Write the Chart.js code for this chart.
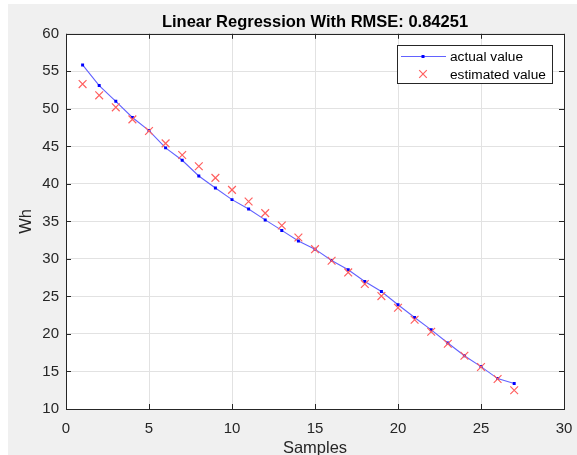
<!DOCTYPE html>
<html>
<head>
<meta charset="utf-8">
<script src="https://cdn.jsdelivr.net/npm/chart.js@4"></script>
<style>
    html, body { margin: 0; padding: 0; background: #fff; }
    #chart { display: block; }
</style>
</head>
<body>
<canvas id="chart" width="577" height="455"></canvas>
<script>
// --- Data ---

const samples = [1, 2, 3, 4, 5, 6, 7, 8, 9, 10, 11, 12, 13, 14, 15, 16, 17, 18, 19, 20, 21, 22, 23, 24, 25, 26, 27];
const actualValues = [55.85, 53.1, 51.0, 48.85, 47.1, 44.8, 43.15, 41.05, 39.45, 37.9, 36.65, 35.2, 33.8, 32.4,
    31.3, 29.8, 28.55, 27.0, 25.65, 23.9, 22.2, 20.55, 18.8, 17.1, 15.65, 14.05, 13.4];
const estimatedValues = [53.3, 51.8, 50.2, 48.6, 47.05, 45.4, 43.85, 42.35, 40.8, 39.2, 37.65, 36.1, 34.45, 32.85,
    31.3, 29.75, 28.2, 26.65, 25.05, 23.5, 21.9, 20.3, 18.7, 17.1, 15.6, 14.0, 12.5];
const xTicks = [0, 5, 10, 15, 20, 25, 30];
const yTicks = [10, 15, 20, 25, 30, 35, 40, 45, 50, 55, 60];

const AXIS_COLOR = '#262626';
const GRID_COLOR = '#e2e2e2';
const FONT = '"Liberation Sans", Arial, sans-serif';

// --- MATLAB-ish frame: grey figure, white axes, box with inward ticks, legend ---

const matlabFrame = {
    id: 'matlabFrame',
    beforeDraw(chart) {
        const { ctx, width, height, chartArea: a } = chart;
        ctx.save();
        ctx.fillStyle = '#ffffff';
        ctx.fillRect(0, 0, width, height);
        ctx.fillStyle = '#f0f0f0';
        ctx.fillRect(8, 4, width - 8, height - 4);
        ctx.fillStyle = '#ffffff';
        ctx.fillRect(a.left, a.top, a.right - a.left, a.bottom - a.top);
        ctx.restore();
    },
    afterDraw(chart) {
        const { ctx, chartArea: a, scales } = chart;
        const tick = 5;
        ctx.save();
        ctx.strokeStyle = AXIS_COLOR;
        ctx.lineWidth = 1;
        ctx.beginPath();
        xTicks.forEach(v => {
            const px = Math.round(scales.x.getPixelForValue(v)) + 0.5;
            ctx.moveTo(px, a.bottom); ctx.lineTo(px, a.bottom - tick);
            ctx.moveTo(px, a.top); ctx.lineTo(px, a.top + tick);
        });
        yTicks.forEach(v => {
            const py = Math.round(scales.y.getPixelForValue(v)) + 0.5;
            ctx.moveTo(a.left, py); ctx.lineTo(a.left + tick, py);
            ctx.moveTo(a.right, py); ctx.lineTo(a.right - tick, py);
        });
        ctx.stroke();
        ctx.strokeRect(Math.round(a.left) + 0.5, Math.round(a.top) + 0.5,
            Math.round(a.right - a.left), Math.round(a.bottom - a.top));

        // legend box in the top right corner of the axes
        const sets = chart.data.datasets;
        ctx.font = '13.7px ' + FONT;
        const textW = Math.max(...sets.map(d => ctx.measureText(d.label).width));
        const boxW = 53 + textW + 6;
        const boxH = 38;
        const right = Math.round(a.right) - 12;
        const left = Math.round(right - boxW);
        const top = Math.round(a.top) + 11;
        ctx.fillStyle = '#ffffff';
        ctx.fillRect(left, top, right - left, boxH);
        ctx.strokeStyle = AXIS_COLOR;
        ctx.strokeRect(left + 0.5, top + 0.5, right - left, boxH);

        const rows = [top + 11, top + 29];
        const mid = left + 26;
        // actual value: line with dot
        ctx.strokeStyle = sets[1].borderColor;
        ctx.beginPath();
        ctx.moveTo(left + 4, rows[0] + 0.5);
        ctx.lineTo(left + 49, rows[0] + 0.5);
        ctx.stroke();
        ctx.fillStyle = sets[1].pointBackgroundColor;
        ctx.fillRect(mid - 1.5, rows[0] - 1, 3, 3);
        // estimated value: cross
        ctx.strokeStyle = sets[0].pointBorderColor;
        ctx.lineWidth = sets[0].pointBorderWidth;
        ctx.beginPath();
        ctx.moveTo(mid - 3.8, rows[1] - 3.8); ctx.lineTo(mid + 3.8, rows[1] + 3.8);
        ctx.moveTo(mid + 3.8, rows[1] - 3.8); ctx.lineTo(mid - 3.8, rows[1] + 3.8);
        ctx.stroke();

        ctx.fillStyle = '#000000';
        ctx.textBaseline = 'middle';
        ctx.textAlign = 'left';
        ctx.fillText(sets[1].label, left + 53, rows[0] + 1);
        ctx.fillText(sets[0].label, left + 53, rows[1] + 1);
        ctx.restore();
    }
};

// --- Chart ---

new Chart(document.getElementById('chart'), {
    type: 'line',
    data: {
        datasets: [{
            label: 'estimated value',
            data: samples.map((s, i) => ({ x: s, y: estimatedValues[i] })),
            showLine: false,
            pointStyle: 'crossRot',
            pointRadius: 5.5,
            pointBorderWidth: 1.2,
            pointBorderColor: '#ff6060',
            pointBackgroundColor: '#ff6060',
            order: 0
        }, {
            label: 'actual value',
            data: samples.map((s, i) => ({ x: s, y: actualValues[i] })),
            borderColor: '#6262ff',
            borderWidth: 1.1,
            tension: 0,
            pointStyle: 'rect',
            pointRadius: 2.1,
            pointBorderWidth: 0,
            pointBackgroundColor: '#0000ff',
            order: 1
        }]
    },
    options: {
        responsive: false,
        animation: false,
        layout: { padding: { left: 0, right: 13, top: 0, bottom: 0 } },
        plugins: {
            legend: { display: false },
            tooltip: { enabled: false },
            title: {
                display: true,
                fullSize: false,
                text: 'Linear Regression With RMSE: 0.84251',
                color: '#000000',
                font: { family: FONT, size: 16.5, weight: 'bold' },
                padding: { top: 13, bottom: 1 }
            }
        },
        scales: {
            x: {
                type: 'linear',
                min: 0,
                max: 30,
                afterBuildTicks: s => { s.ticks = xTicks.map(v => ({ value: v })); },
                // fixed axis box so the plot area lands where MATLAB put it
                afterFit: s => { s.height = 46; s.paddingLeft = 0; s.paddingRight = 0; },
                ticks: { color: AXIS_COLOR, padding: 11, maxRotation: 0, font: { family: FONT, size: 15 } },
                grid: { color: GRID_COLOR, drawTicks: false },
                border: { display: false },
                title: {
                    display: true,
                    text: 'Samples',
                    color: AXIS_COLOR,
                    font: { family: FONT, size: 16.5, lineHeight: 0.8 },
                    padding: { top: 0, bottom: 0 }
                }
            },
            y: {
                type: 'linear',
                min: 10,
                max: 60,
                afterBuildTicks: s => { s.ticks = yTicks.map(v => ({ value: v })); },
                afterFit: s => { s.width = 66; s.paddingTop = 0; s.paddingBottom = 0; },
                ticks: { color: AXIS_COLOR, padding: 7, font: { family: FONT, size: 15 } },
                grid: { color: GRID_COLOR, drawTicks: false },
                border: { display: false },
                title: {
                    display: true,
                    text: 'Wh',
                    color: AXIS_COLOR,
                    font: { family: FONT, size: 16.5 },
                    padding: { top: 17, bottom: 0 }
                }
            }
        }
    },
    plugins: [matlabFrame]
});
</script>
</body>
</html>
